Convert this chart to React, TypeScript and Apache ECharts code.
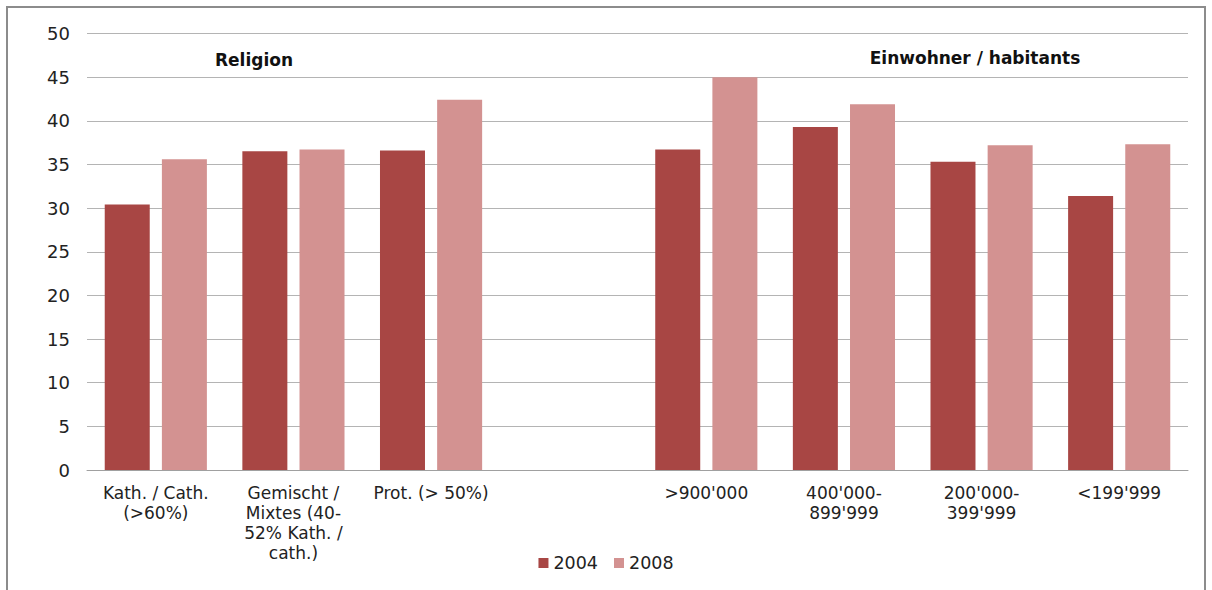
import React, { useEffect, useRef } from "react";
import * as echarts from "echarts";

const categories = [
  "Kath. / Cath.\n(>60%)",
  "Gemischt /\nMixtes (40-\n52% Kath. /\ncath.)",
  "Prot. (> 50%)",
  "",
  ">900'000",
  "400'000-\n899'999",
  "200'000-\n399'999",
  "<199'999",
];
const values2004 = [30.4, 36.5, 36.6, null, 36.7, 39.3, 35.3, 31.4];
const values2008 = [35.6, 36.7, 42.4, null, 45.0, 41.9, 37.2, 37.3];
const groupLabels = ["Religion", "Einwohner / habitants"];

export default function App() {
  const ref = useRef<HTMLDivElement>(null);
  useEffect(() => {
    document.body.style.margin = "0";
    const chart = echarts.init(ref.current!, null, { renderer: "svg" });
    const font = "'DejaVu Sans', sans-serif";
    chart.setOption({
      animation: false,
      backgroundColor: "#ffffff",
      textStyle: { fontFamily: font },
      grid: { left: 87, right: 24, top: 33.5, bottom: 120 },
      legend: {
        bottom: 13,
        left: "center",
        itemWidth: 10,
        itemHeight: 10,
        itemGap: 16,
        icon: "rect",
        textStyle: { fontSize: 17.5, color: "#222", fontFamily: font },
        data: ["2004", "2008"],
      },
      xAxis: {
        type: "category",
        data: categories,
        axisLine: { lineStyle: { color: "#a0a0a0", width: 1 } },
        axisTick: { show: false },
        axisLabel: {
          interval: 0,
          fontSize: 17,
          lineHeight: 20,
          color: "#222",
          margin: 13,
          fontFamily: font,
        },
      },
      yAxis: {
        type: "value",
        min: 0,
        max: 50,
        interval: 5,
        axisLine: { show: false },
        axisTick: { show: false },
        splitLine: { lineStyle: { color: "#b4b4b4", width: 1 } },
        axisLabel: { fontSize: 18, color: "#222", margin: 17, fontFamily: font },
      },
      series: [
        {
          name: "2004",
          type: "bar",
          data: values2004,
          barWidth: 45,
          barGap: "27%",
          itemStyle: { color: "#a84644" },
        },
        {
          name: "2008",
          type: "bar",
          data: values2008,
          barWidth: 45,
          itemStyle: { color: "#d39291" },
        },
      ],
      graphic: [
        {
          type: "rect",
          shape: { x: 7, y: 7, width: 1198, height: 600 },
          style: { fill: "none", stroke: "#8c8c8c", lineWidth: 2 },
          silent: true,
        },
        {
          type: "text",
          x: 254,
          y: 60,
          style: {
            text: groupLabels[0],
            font: `bold 17px ${font}`,
            fill: "#111",
            align: "center",
            verticalAlign: "middle",
          },
        },
        {
          type: "text",
          x: 975,
          y: 58,
          style: {
            text: groupLabels[1],
            font: `bold 17px ${font}`,
            fill: "#111",
            align: "center",
            verticalAlign: "middle",
          },
        },
      ],
    });
    return () => chart.dispose();
  }, []);
  return <div ref={ref} style={{ width: 1212, height: 590 }} />;
}
